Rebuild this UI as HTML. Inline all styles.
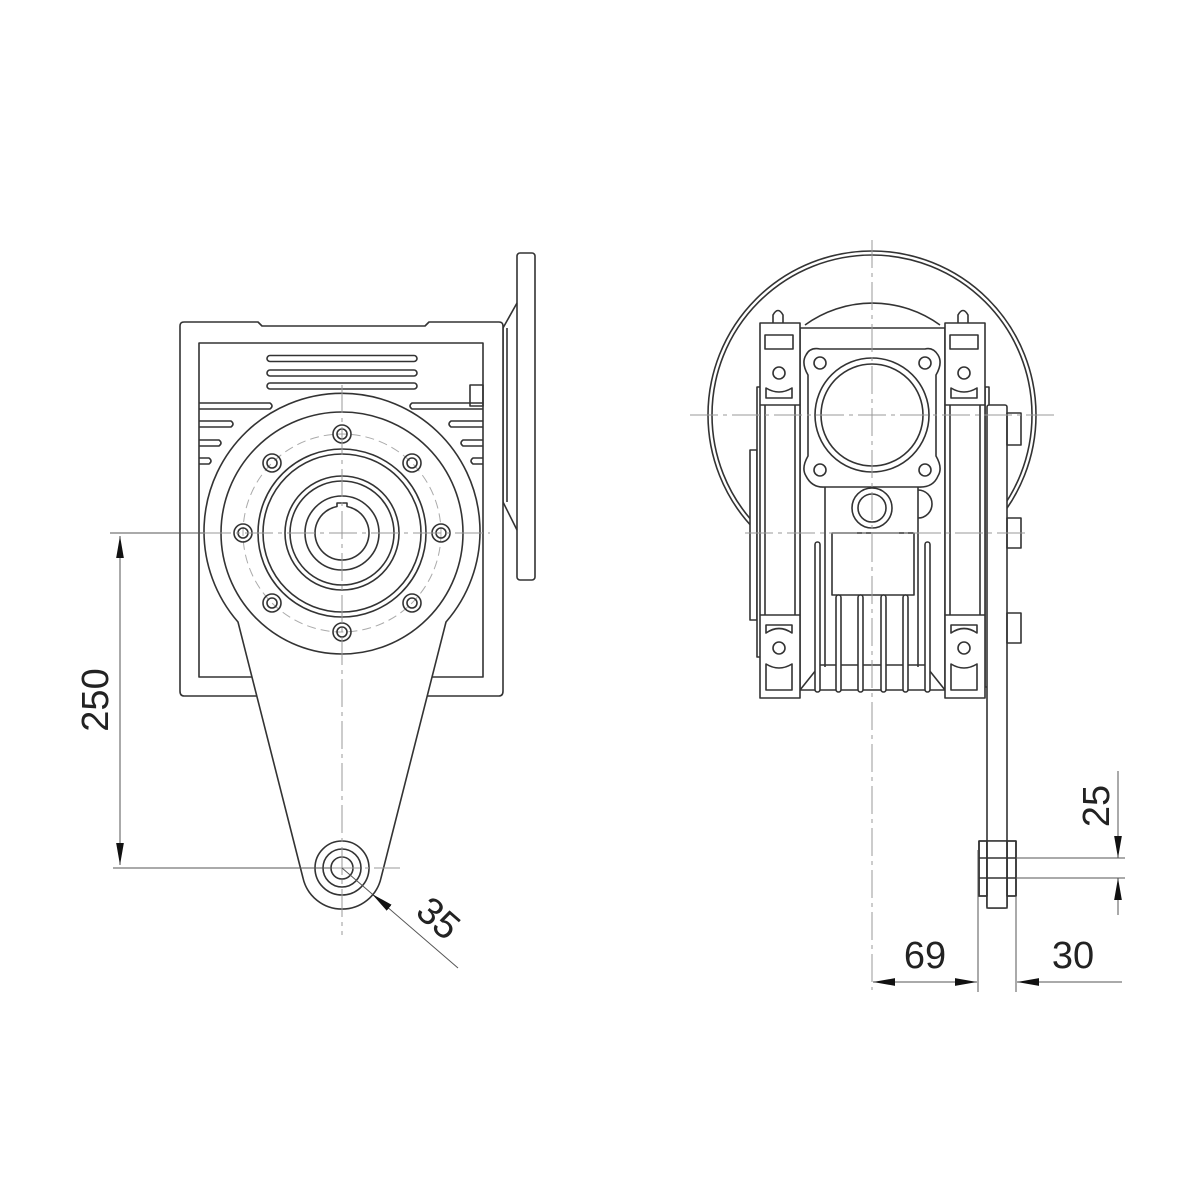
<!DOCTYPE html>
<html><head><meta charset="utf-8"><style>
html,body{margin:0;padding:0;background:#fff;}
svg{display:block}
text{font-family:"Liberation Sans",sans-serif;fill:#222;}
</style></head><body>
<svg width="1200" height="1200" viewBox="0 0 1200 1200" xmlns="http://www.w3.org/2000/svg">
<defs>
<marker id="ar" viewBox="0 0 10 10" refX="10" refY="5" markerWidth="12" markerHeight="12" markerUnits="userSpaceOnUse" orient="auto-start-reverse"><path d="M0,2 L10,5 L0,8 z" fill="#111"/></marker>
<marker id="arL" viewBox="0 0 20 10" refX="20" refY="5" markerWidth="22" markerHeight="11" markerUnits="userSpaceOnUse" orient="auto-start-reverse"><path d="M0,1.5 L20,5 L0,8.5 z" fill="#111"/></marker>
</defs>
<g fill="none" stroke="#333" stroke-width="1.6" stroke-linejoin="round">
<!-- ===== LEFT VIEW ===== -->
<!-- motor flange plate -->
<rect x="517" y="253" width="18" height="327" rx="3" fill="#fff"/>
<path d="M503,328 L517,303 M503,502 L517,530"/>
<path d="M503,328 L503,502 M507,328 L507,502"/>
<!-- housing outer -->
<path d="M184,322 L258,322 L262,326 L425,326 L429,322 L499,322 Q503,322 503,326 L503,691 Q503,696 499,696 L184,696 Q180,696 180,691 L180,326 Q180,322 184,322 Z" fill="#fff"/>
<rect x="199" y="343" width="284" height="334"/>
<rect x="470" y="385" width="13" height="21"/>
<!-- top slots -->
<rect x="267" y="355.5" width="150" height="6" rx="3"/>
<rect x="267" y="370" width="150" height="6" rx="3"/>
<rect x="267" y="383" width="150" height="6" rx="3"/>
<!-- side slots -->
<path d="M199,403 L270,403 Q274,406 270,409 L199,409"/>
<path d="M199,421 L231,421 Q235,424 231,427 L199,427"/>
<path d="M199,440 L219,440 Q223,443 219,446 L199,446"/>
<path d="M199,458 L209,458 Q213,461 209,464 L199,464"/>
<path d="M483,403 L412,403 Q408,406 412,409 L483,409"/>
<path d="M483,421 L451,421 Q447,424 451,427 L483,427"/>
<path d="M483,440 L463,440 Q459,443 463,446 L483,446"/>
<path d="M483,458 L473,458 Q469,461 473,464 L483,464"/>
<!-- big circle + arm -->
<path d="M238,622 A138,138 0 1 1 446,622 L381,878 A40,40 0 0 1 303,878 Z" fill="#fff"/>
<circle cx="342" cy="533" r="121"/>
<circle cx="342" cy="533" r="99" stroke="#aaa" stroke-width="1" stroke-dasharray="9,5"/>
<circle cx="342" cy="533" r="84"/>
<circle cx="342" cy="533" r="79"/>
<circle cx="342" cy="533" r="57"/>
<circle cx="342" cy="533" r="52"/>
<circle cx="342" cy="533" r="37"/>
<path d="M337,506.5 A27,27 0 1 0 347,506.5 L347,503 L337,503 Z"/>
<g>
<circle cx="342" cy="434" r="9"/><circle cx="342" cy="434" r="5"/>
<circle cx="412" cy="463" r="9"/><circle cx="412" cy="463" r="5"/>
<circle cx="441" cy="533" r="9"/><circle cx="441" cy="533" r="5"/>
<circle cx="412" cy="603" r="9"/><circle cx="412" cy="603" r="5"/>
<circle cx="342" cy="632" r="9"/><circle cx="342" cy="632" r="5"/>
<circle cx="272" cy="603" r="9"/><circle cx="272" cy="603" r="5"/>
<circle cx="243" cy="533" r="9"/><circle cx="243" cy="533" r="5"/>
<circle cx="272" cy="463" r="9"/><circle cx="272" cy="463" r="5"/>
</g>
<!-- hub -->
<circle cx="342" cy="868" r="27"/>
<circle cx="342" cy="868" r="19"/>
<circle cx="342" cy="868" r="11"/>

<!-- ===== RIGHT VIEW ===== -->
<circle cx="872" cy="415" r="164" fill="#fff"/>
<circle cx="872" cy="415" r="160"/>
<path d="M805,325 A115,115 0 0 1 940,325"/>
<!-- left strips -->
<rect x="750" y="450" width="7" height="170" fill="#fff"/>
<rect x="757" y="387" width="5" height="270" fill="#fff"/>
<!-- right strips + arm plate -->
<rect x="985" y="387" width="4" height="300" fill="#fff"/>
<rect x="987" y="405" width="20" height="503" rx="2" fill="#fff"/>
<rect x="1007" y="413" width="14" height="32"/>
<rect x="1007" y="518" width="14" height="30"/>
<rect x="1007" y="613" width="14" height="30"/>
<!-- middle body -->
<rect x="800" y="328" width="145" height="362" fill="#fff"/>
<path d="M800,690 L820,665 L925,665 L945,690"/>
<path d="M825,487 L825,667 M918,487 L918,667"/>
<rect x="832" y="533" width="82" height="62" fill="#fff"/>
<g fill="#fff">
<rect x="815" y="542" width="5" height="150" rx="2.5"/>
<rect x="836" y="595" width="5" height="97" rx="2.5"/>
<rect x="858" y="595" width="5" height="97" rx="2.5"/>
<rect x="881" y="595" width="5" height="97" rx="2.5"/>
<rect x="903" y="595" width="5" height="97" rx="2.5"/>
<rect x="925" y="542" width="5" height="150" rx="2.5"/>
</g>
<!-- flange -->
<path d="M820,349 Q810,347 806,355 Q801,363 808,375 L808,456 Q801,468 806,476 Q812,488 825,487 L918,487 Q933,488 938,476 Q943,468 936,456 L936,375 Q943,363 938,355 Q933,347 925,349 Z" fill="#fff"/>
<circle cx="820" cy="363" r="6"/><circle cx="925" cy="363" r="6"/>
<circle cx="820" cy="470" r="6"/><circle cx="925" cy="470" r="6"/>
<circle cx="872" cy="415" r="57"/>
<circle cx="872" cy="415" r="51"/>
<circle cx="872" cy="508" r="20" fill="#fff"/>
<circle cx="872" cy="508" r="14"/>
<path d="M918,490 A10,10 0 0 1 918,518"/>
<!-- lugs -->
<g fill="#fff">
<rect x="760" y="323" width="40" height="375"/>
<rect x="945" y="323" width="40" height="375"/>
</g>
<path d="M765,405 L765,615 M795,405 L795,615 M950,405 L950,615 M980,405 L980,615"/>
<path d="M760,405 L800,405 M760,615 L800,615 M945,405 L985,405 M945,615 L985,615"/>
<g>
<path d="M773,323 L773,315 Q778,306 783,315 L783,323"/>
<path d="M958,323 L958,315 Q963,306 968,315 L968,323"/>
<rect x="765" y="335" width="28" height="14"/>
<rect x="950" y="335" width="28" height="14"/>
<circle cx="779" cy="373" r="6"/><circle cx="964" cy="373" r="6"/>
<path d="M766,388 Q779,396 792,388 L792,398 L766,398 Z"/>
<path d="M951,388 Q964,396 977,388 L977,398 L951,398 Z"/>
<path d="M766,625 L792,625 L792,633 Q779,624 766,633 Z"/>
<path d="M951,625 L977,625 L977,633 Q964,624 951,633 Z"/>
<circle cx="779" cy="648" r="6"/><circle cx="964" cy="648" r="6"/>
<path d="M766,664 Q779,672 792,664 L792,690 L766,690 Z"/>
<path d="M951,664 Q964,672 977,664 L977,690 L951,690 Z"/>
</g>
<!-- bushing -->
<rect x="979" y="841" width="37" height="55" fill="none"/>
<rect x="987" y="841" width="20" height="67" fill="#fff"/>
<rect x="979" y="841" width="8" height="55"/>
<rect x="1007" y="841" width="9" height="55"/>
<path d="M979,858 L1016,858 M979,878 L1016,878"/>
</g>

<!-- centerlines -->
<g stroke="#999" stroke-width="1" stroke-dasharray="28,5,4,5" fill="none">
<path d="M342,385 L342,935"/>
<path d="M203,533 L490,533"/>
<path d="M872,240 L872,990"/>
<path d="M690,415 L1058,415"/>
<path d="M745,533 L1030,533"/>
<path d="M290,868 L400,868"/>
</g>

<!-- dimensions -->
<g stroke="#555" stroke-width="1" fill="none">
<path d="M110,533 L203,533"/>
<path d="M113,868 L330,868"/>
<path d="M120,536 L120,865" marker-start="url(#arL)" marker-end="url(#arL)"/>
<path d="M342,868 L458,968"/>
<path d="M372,894 L382,902" marker-start="url(#arL)"/>
<path d="M1016,858 L1125,858 M1016,878 L1125,878"/>
<path d="M1118,771 L1118,858" marker-end="url(#arL)"/>
<path d="M1118,878 L1118,915" marker-start="url(#arL)"/>
<path d="M978,850 L978,992 M1016,896 L1016,992"/>
<path d="M873,982 L977,982" marker-start="url(#arL)" marker-end="url(#arL)"/>
<path d="M1017,982 L1122,982" marker-start="url(#arL)"/>
</g>
<text x="0" y="0" font-size="38" text-anchor="middle" transform="translate(108,700) rotate(-90)">250</text>
<text x="0" y="0" font-size="38" text-anchor="middle" transform="translate(430,928) rotate(41)">35</text>
<text x="0" y="0" font-size="38" text-anchor="middle" transform="translate(1109,806) rotate(-90)">25</text>
<text x="925" y="968" font-size="38" text-anchor="middle">69</text>
<text x="1073" y="968" font-size="38" text-anchor="middle">30</text>
</svg>
</body></html>
